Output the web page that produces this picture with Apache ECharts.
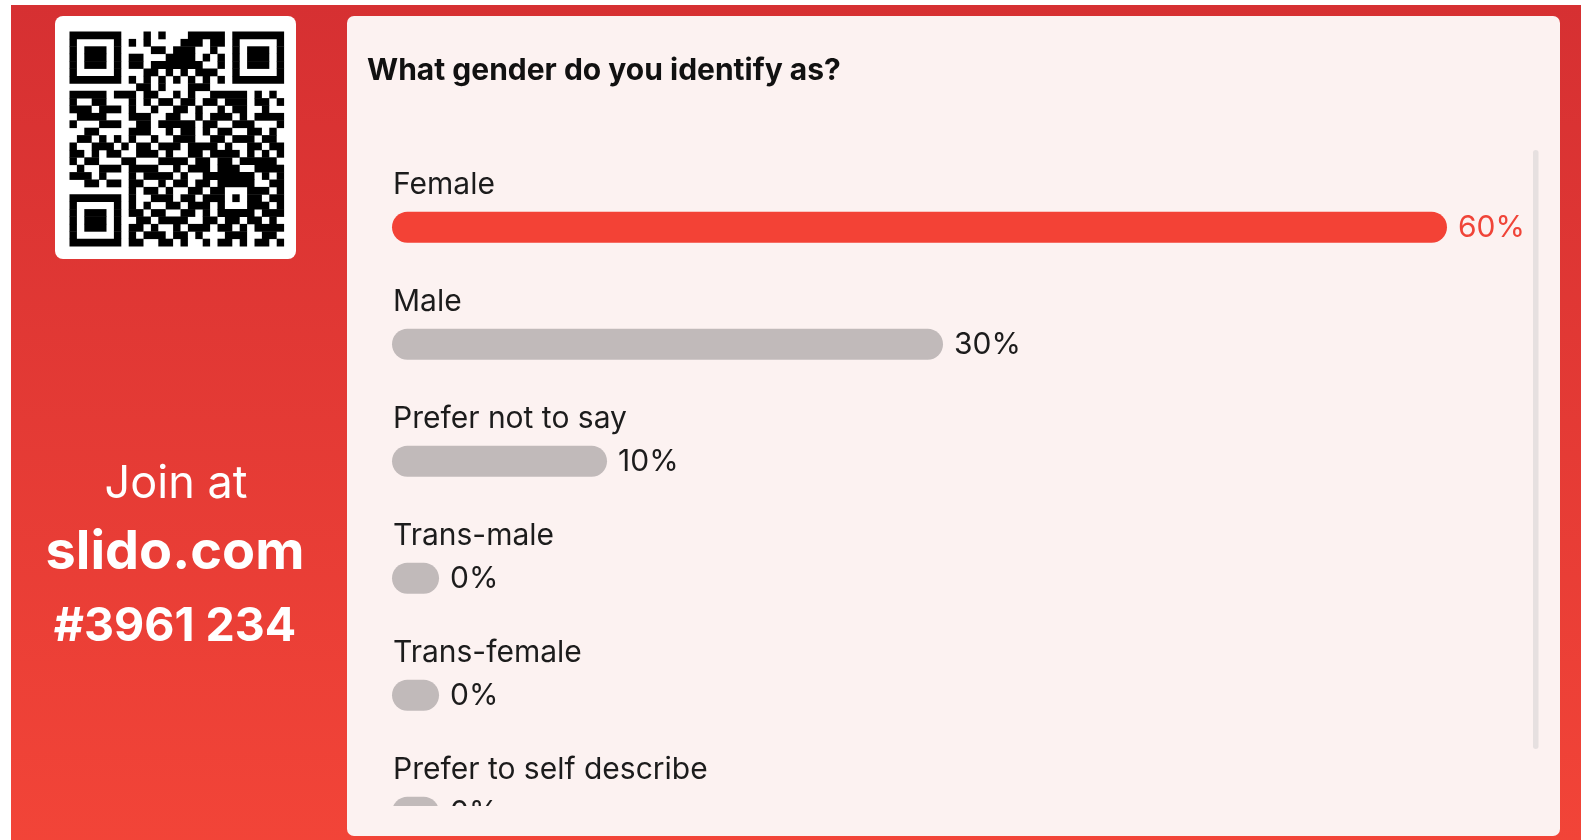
<!DOCTYPE html>
<html>
<head>
<meta charset="utf-8">
<script src="https://cdn.jsdelivr.net/npm/echarts@6/dist/echarts.min.js"></script>
<style>
html,body{margin:0;padding:0;background:#fff;overflow:hidden;}
#chart{width:1581px;height:871px;}
</style>
</head>
<body>
<div id="chart"></div>
<script>
// ---- data ----
var title = 'What gender do you identify as?';
var categories = ['Female', 'Male', 'Prefer not to say', 'Trans-male', 'Trans-female', 'Prefer to self describe'];
var percents = [60, 30, 10, 0, 0, 0];
var joinLines = ['Join at', 'slido.com', '#3961 234'];
var qrRows = [
  '11111110001010001111101111111',
  '10000010101000011101101000001',
  '10111010000110111001001011101',
  '10111010110001111010101011101',
  '10111010110111111100101011101',
  '10000010001101010111001000001',
  '11111110101010101010101111111',
  '00000000011010001110000000000',
  '11111011101100101001111101010',
  '10011000101011011011011101101',
  '11101110100100110100101100100',
  '01111000111001100101110101111',
  '10001110011011111011001110001',
  '00110000111001011010110011010',
  '01101010100100111001101110110',
  '10011101011011101111010011011',
  '11010110011101001101111010101',
  '10110001100011110110110111110',
  '01001110111100101110111001111',
  '11101000101111010011111110101',
  '00110110110010110110111110011',
  '00000000101101001101100011101',
  '11111110100111011011101011011',
  '10000010101001101110100011101',
  '10111010110110011010111110111',
  '10111010011011110011011011010',
  '10111010110100101110110101111',
  '10000010101110110100011100110',
  '11111110110011010010110101101'
];

// ---- styling constants ----
var FONT = 'Inter, "Noto Sans", sans-serif';
var RED = '#F34236';
var GRAY = '#C1BABA';
var CARD = '#FCF2F1';
var AXIS_MIN = -2.8, AXIS_MAX = 60;
var BAR_H = 31;

var maxVal = Math.max.apply(null, percents);

var graphics = [];
// red backdrop
graphics.push({type:'rect', shape:{x:11, y:5, width:1570, height:866},
  style:{fill:new echarts.graphic.LinearGradient(0,0,0,1,[{offset:0,color:'#D63032'},{offset:1,color:'#F34538'}])}});
// card
graphics.push({type:'rect', shape:{x:347, y:16, width:1213, height:820, r:7}, style:{fill:CARD}});
// QR box
graphics.push({type:'rect', shape:{x:55, y:16, width:241, height:243, r:8}, style:{fill:'#ffffff'}});
// QR modules (merged horizontal runs)
var qx = 69.5, qy = 31.5, qm = 7.4;
qrRows.forEach(function(row, r){
  var c = 0;
  while (c < row.length) {
    if (row[c] === '1') {
      var s = c;
      while (c < row.length && row[c] === '1') c++;
      graphics.push({type:'rect', shape:{x:qx + s*qm, y:qy + r*qm, width:(c-s)*qm, height:qm+0.4}, style:{fill:'#000'}});
    } else c++;
  }
});
// join texts
graphics.push({type:'text', style:{x:176, y:484, text:joinLines[0], fill:'#fff', font:'400 45px ' + FONT, align:'center', verticalAlign:'middle'}});
graphics.push({type:'text', style:{x:175, y:553, text:joinLines[1], fill:'#fff', font:'700 54px ' + FONT, align:'center', verticalAlign:'middle'}});
graphics.push({type:'text', style:{x:175, y:627.5, text:joinLines[2], fill:'#fff', font:'700 46.5px ' + FONT, align:'center', verticalAlign:'middle'}});
// scrollbar
graphics.push({type:'rect', shape:{x:1533, y:150, width:5.5, height:599, r:3}, style:{fill:'#E6E0E0'}});
// clip of the scrolled list
graphics.push({type:'rect', z:100, shape:{x:352, y:806, width:1175, height:29}, style:{fill:CARD}});

var chart = echarts.init(document.getElementById('chart'), null, {renderer:'canvas'});
chart.setOption({
  backgroundColor:'#ffffff',
  animation:false,
  title:{text:title, left:367, top:56, padding:0,
    textStyle:{fontFamily:FONT, fontSize:30, fontWeight:700, color:'#111111', lineHeight:30}},
  grid:{left:392, width:1055, top:168.7, height:702},
  xAxis:{type:'value', min:AXIS_MIN, max:AXIS_MAX, show:false},
  yAxis:{type:'category', inverse:true, data:categories, show:false},
  graphic:graphics,
  series:[{
    type:'custom',
    coordinateSystem:'cartesian2d',
    clip:false,
    data:percents.map(function(v,i){return [v,i];}),
    renderItem:function(params, api){
      var idx = api.value(1), val = api.value(0);
      var start = api.coord([AXIS_MIN, idx]);
      var end = api.coord([val, idx]);
      var cy = start[1];
      var lead = val === maxVal;
      return {type:'group', children:[
        {type:'rect', shape:{x:start[0], y:cy-BAR_H/2, width:end[0]-start[0], height:BAR_H, r:BAR_H/2},
          style:{fill: lead ? RED : GRAY}},
        {type:'text', style:{x:start[0]+1, y:cy-42.3, text:categories[idx], fill:'#1c1c1c',
          font:'400 30px ' + FONT, align:'left', verticalAlign:'middle'}},
        {type:'text', style:{x:end[0]+11, y:cy+0.5, text:val+'%', fill: lead ? '#F04438' : '#1c1c1c',
          font:'400 30px ' + FONT, align:'left', verticalAlign:'middle'}}
      ]};
    }
  }]
});
</script>
</body>
</html>
